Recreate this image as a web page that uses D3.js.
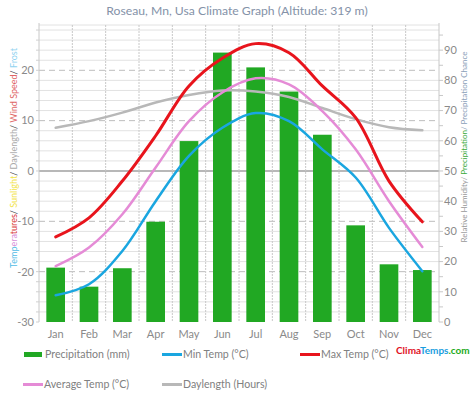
<!DOCTYPE html>
<html><head><meta charset="utf-8">
<script src="https://cdn.jsdelivr.net/npm/d3@7"></script>
<style>body{margin:0;background:#fff}svg{display:block}</style>
</head><body>
<svg id="c" width="474" height="400"></svg>
<script>
const months = ["Jan","Feb","Mar","Apr","May","Jun","Jul","Aug","Sep","Oct","Nov","Dec"];
const precipitation = [18.0, 11.7, 17.8, 33.2, 59.9, 89.2, 84.3, 76.3, 62.0, 32.0, 19.1, 17.2];
const minTemp = [-24.7, -22.5, -15.9, -6.0, 3.0, 8.6, 11.5, 9.9, 4.3, -1.3, -11.3, -19.9];
const maxTemp = [-13.1, -9.3, -2.0, 7.0, 16.9, 22.4, 25.3, 23.5, 16.9, 10.6, -2.0, -10.1];
const avgTemp = [-18.9, -15.2, -8.6, 0.7, 9.9, 15.6, 18.4, 17.2, 11.9, 4.3, -6.0, -15.1];
const daylength = [8.6, 9.9, 11.6, 13.6, 15.1, 16.0, 15.8, 14.7, 12.5, 10.3, 8.7, 8.1];
const leftTicks = [-30, -20, -10, 0, 10, 20];
const rightTicks = [0, 10, 20, 30, 40, 50, 60, 70, 80, 90];

const svg = d3.select("#c");
const F = "'Lato','DejaVu Sans',sans-serif";
const L = 39, R = 439, T = 25, B = 322;
const x = d3.scaleBand().domain(months).range([L, R]).paddingInner(0.44).paddingOuter(0.22);
const yL = d3.scaleLinear().domain([-30, 29]).range([B, T]);
const yR = d3.scaleLinear().domain([0, 59 * 5 / 3]).range([B, T]);
const cx = m => x(m) + x.bandwidth() / 2;

// grid horizontal
const g = svg.append("g");
for (let v = -28; v <= 28; v += 2) {
  const major = v % 10 === 0;
  g.append("line").attr("x1", L).attr("x2", R).attr("y1", yL(v)).attr("y2", yL(v))
    .attr("stroke", v === 0 ? "#a0a0a0" : (major ? "#bdbdbd" : "#e2e2e2"))
    .attr("stroke-width", v === 0 ? 1.3 : 1)
    .attr("stroke-dasharray", (major && v !== 0) ? "6,4" : null);
}
g.append("line").attr("x1", L).attr("x2", R).attr("y1", T).attr("y2", T).attr("stroke", "#e2e2e2");
// vertical grid
const step = x.step();
for (let i = 1; i < 12; i++) {
  const xx = L + step * i;
  g.append("line").attr("x1", xx).attr("x2", xx).attr("y1", T).attr("y2", B)
    .attr("stroke", "#c8c8c8").attr("stroke-dasharray", "2,1");
}
// axes lines
g.append("line").attr("x1", L).attr("x2", L).attr("y1", T - 2).attr("y2", B).attr("stroke", "#c8c8c8");
g.append("line").attr("x1", R).attr("x2", R).attr("y1", T - 2).attr("y2", B).attr("stroke", "#c8c8c8");
// right minor ticks
for (let v = 0; v <= 98; v += 5) {
  g.append("line").attr("x1", R).attr("x2", R + 4).attr("y1", yR(v)).attr("y2", yR(v)).attr("stroke", "#c8c8c8");
}
for (let v = -30; v <= 28; v += 2) {
  g.append("line").attr("x1", L - 3).attr("x2", L).attr("y1", yL(v)).attr("y2", yL(v)).attr("stroke", "#d0d0d0");
}

// bars
svg.append("g").selectAll("rect").data(months).join("rect")
  .attr("x", d => x(d)).attr("width", x.bandwidth())
  .attr("y", (d, i) => yR(precipitation[i])).attr("height", (d, i) => B - yR(precipitation[i]))
  .attr("fill", "#21a823");

// lines
function drawLine(data, color, w) {
  const line = d3.line().x((d, i) => cx(months[i])).y(d => yL(d)).curve(d3.curveCatmullRom.alpha(0.5));
  svg.append("path").attr("d", line(data)).attr("fill", "none").attr("stroke", color)
    .attr("stroke-width", w).attr("stroke-linecap", "round");
}
drawLine(daylength, "#b8b8b8", 2.5);
drawLine(maxTemp, "#e8141c", 3);
drawLine(avgTemp, "#e58bd6", 2.5);
drawLine(minTemp, "#1aa6e0", 2.5);

// axis labels
const lab = svg.append("g").attr("font-family", F).attr("font-size", 11).attr("fill", "#8a8a8a");
leftTicks.forEach(v => lab.append("text").attr("x", 34).attr("y", yL(v)).attr("dy", "0.35em").attr("text-anchor", "end").text(v));
rightTicks.forEach(v => lab.append("text").attr("x", 444).attr("y", yR(v)).attr("dy", "0.35em").text(v));
months.forEach(m => lab.append("text").attr("x", cx(m)).attr("y", 334).attr("dy", "0.35em").attr("text-anchor", "middle").text(m));

// title
svg.append("text").attr("x", 237).attr("y", 11).attr("dy", "0.35em").attr("text-anchor", "middle")
  .attr("font-family", F).attr("font-size", 12.2).attr("fill", "#8492a8")
  .text("Roseau, Mn, Usa Climate Graph (Altitude: 319 m)");

// left axis title
const lt = svg.append("text").attr("transform", "translate(14,158) rotate(-90)").attr("text-anchor", "middle")
  .attr("font-family", F).attr("font-size", 9).attr("dy", "0.35em");
[["Temp", "#52bce6"], ["era", "#d890d8"], ["tures", "#d83838"], ["/ ", "#444"], ["Sunlight", "#f2e44a"], ["/ ", "#444"],
 ["Daylength", "#aaaaaa"], ["/ ", "#444"], ["Wind Speed", "#e06666"], ["/ ", "#444"], ["Frost", "#8fd2f0"]]
 .forEach(([t, c]) => lt.append("tspan").attr("fill", c).text(t));
// right axis title
const rt = svg.append("text").attr("transform", "translate(464,147) rotate(-90)").attr("text-anchor", "middle")
  .attr("font-family", F).attr("font-size", 8).attr("dy", "0.35em");
[["Relative Humidity/ ", "#999999"], ["Precipitation", "#3aaa3a"], ["/ Precipitation Chance", "#8aa0b8"]]
 .forEach(([t, c]) => rt.append("tspan").attr("fill", c).text(t));

// legend
const leg = svg.append("g").attr("font-family", F).attr("font-size", 10.6).attr("fill", "#808080");
function legItem(xs, y, type, color, label) {
  if (type === "rect") leg.append("rect").attr("x", xs).attr("y", y - 2.5).attr("width", 18).attr("height", 5).attr("fill", color);
  else leg.append("line").attr("x1", xs).attr("x2", xs + 20).attr("y1", y).attr("y2", y).attr("stroke", color).attr("stroke-width", 3);
  leg.append("text").attr("x", xs + 21).attr("y", y).attr("dy", "0.35em").text(label);
}
legItem(24, 354.5, "rect", "#21a823", "Precipitation (mm)");
legItem(162, 354.5, "line", "#1aa6e0", "Min Temp (°C)");
legItem(300, 354.5, "line", "#e8141c", "Max Temp (°C)");
legItem(23, 384.5, "line", "#e58bd6", "Average Temp (°C)");
legItem(162, 384.5, "line", "#b8b8b8", "Daylength (Hours)");

// logo
const logo = svg.append("text").attr("x", 396).attr("y", 350).attr("dy", "0.35em")
  .attr("font-family", F).attr("font-size", 10).attr("font-weight", "bold");
[["Clima", "#e0101e"], ["Temps", "#1a9ee0"], [".com", "#22aa22"]].forEach(([t, c]) => logo.append("tspan").attr("fill", c).text(t));
</script>
</body></html>
